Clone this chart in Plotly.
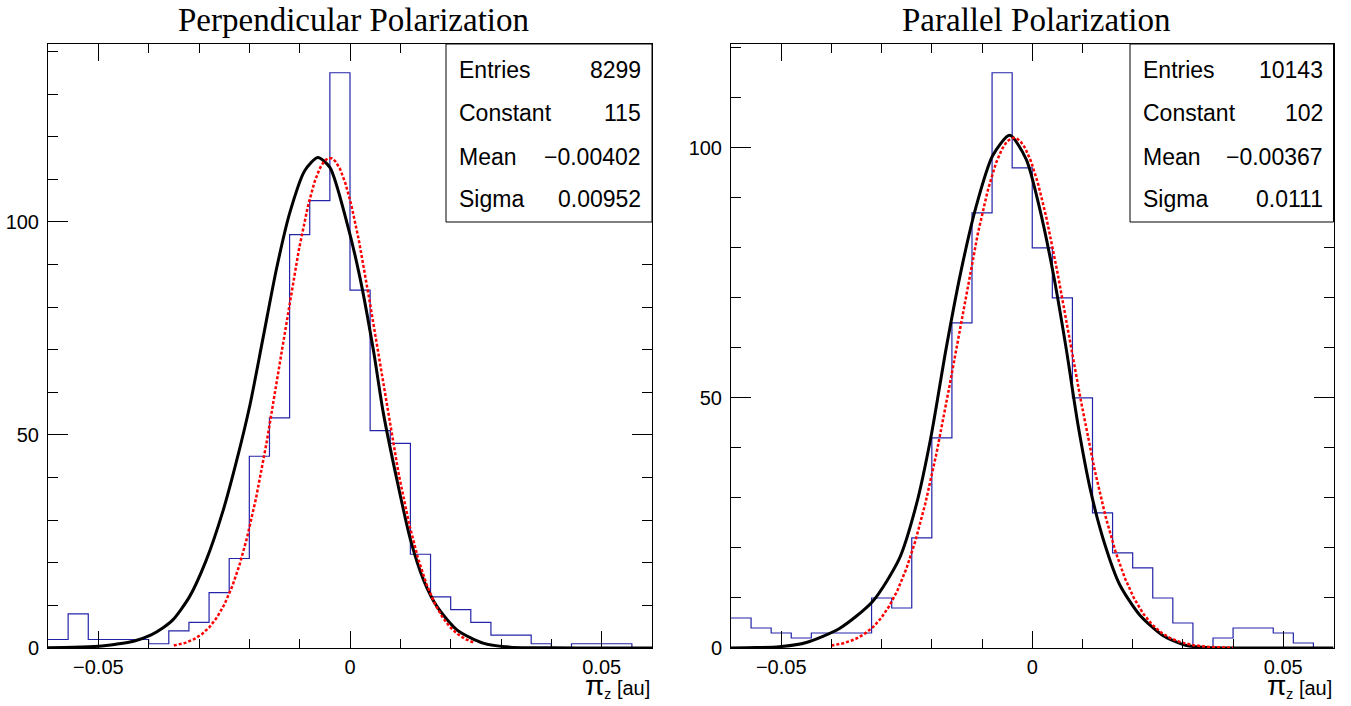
import numpy as np
import plotly.graph_objects as go

W, H = 1351, 706


def px(x):
    return x / W


def py(y):
    return 1 - y / H


# ---------------- data ----------------
bin_edges = [round(-0.06 + 0.004 * i, 4) for i in range(31)]

perp_counts = [2, 8, 2, 2, 2, 1, 4, 6, 13, 21, 45, 54, 97, 105, 135,
               84, 51, 48, 22, 12, 9, 6, 3, 3, 1, 0, 1, 1, 1, 0]
para_counts = [6, 4, 3, 2, 3, 3, 3, 10, 8, 22, 42, 65, 87, 115, 96,
               80, 70, 50, 27, 19, 16, 10, 5, 0, 2, 4, 4, 3, 1, 0]

# fit parameters shown in the stats boxes
perp_stats = {"Entries": "8299", "Constant": "115", "Mean": "\u22120.00402", "Sigma": "0.00952"}
para_stats = {"Entries": "10143", "Constant": "102", "Mean": "\u22120.00367", "Sigma": "0.0111"}
perp_fit = (115.0, -0.00402, 0.00952)
para_fit = (102.0, -0.00367, 0.0111)
perp_fit_range = (-0.035, 0.0245)
para_fit_range = (-0.040, 0.040)

# black reference curves
perp_black_x = [-0.060, -0.055, -0.050, -0.0465, -0.043, -0.0395, -0.0372, -0.0352, -0.0319,
                -0.0286, -0.0252, -0.0226, -0.0199, -0.0173, -0.0146, -0.0120, -0.0090,
                -0.0064, -0.0040, -0.0007, 0.0020, 0.0047, 0.0066, 0.0093, 0.0120, 0.0146,
                0.0173, 0.0213, 0.0266, 0.0319, 0.040, 0.050, 0.060]
perp_black_y = [0.05, 0.15, 0.4, 0.9, 1.6, 3.1, 4.7, 6.6, 12.0,
                20.5, 32.3, 43.6, 56.9, 72.6, 89.0, 102.0, 112.0,
                115.1, 112.8, 100.2, 86.8, 69.5, 55.3, 39.6, 25.5, 16.0,
                9.7, 4.2, 1.1, 0.2, 0.03, 0.0, 0.0]
para_black_x = [-0.060, -0.055, -0.0504, -0.0450, -0.0384, -0.0318, -0.0265, -0.0231,
                -0.0201, -0.0172, -0.0142, -0.0112, -0.0079, -0.0045, -0.0012, 0.0014,
                0.0041, 0.0068, 0.0091, 0.0117, 0.0144, 0.0174, 0.0214, 0.0260, 0.0307,
                0.0360, 0.045, 0.060]
para_black_y = [0.0, 0.08, 0.25, 1.1, 3.9, 9.3, 17.8, 28.6,
                42.6, 59.6, 75.3, 88.2, 98.4, 102.5, 97.7, 88.2,
                75.3, 59.6, 44.7, 31.1, 20.9, 12.7, 6.6, 2.5, 0.5,
                0.05, 0.0, 0.0]

x_tickvals = [-0.05, 0, 0.05]
x_ticktext = ["\u22120.05", "0", "0.05"]
y_tickvals = [0, 50, 100]
y_ticktext = ["0", "50", "100"]
titles = ["Perpendicular Polarization", "Parallel Polarization"]
y_max = [141.75, 120.75]

# ---------------- figure ----------------
fig = go.Figure()


def gauss_curve(params, rng):
    c, m, s = params
    xs = np.linspace(rng[0], rng[1], 400)
    return xs, c * np.exp(-0.5 * ((xs - m) / s) ** 2)


panels = [
    dict(counts=perp_counts, bx=perp_black_x, by=perp_black_y, fit=perp_fit, rng=perp_fit_range, xa="x", ya="y"),
    dict(counts=para_counts, bx=para_black_x, by=para_black_y, fit=para_fit, rng=para_fit_range, xa="x2", ya="y2"),
]
for p in panels:
    fig.add_trace(go.Scatter(x=bin_edges, y=p["counts"] + [p["counts"][-1]], mode="lines",
                             line=dict(color="#2424a8", width=1.2, shape="hv"),
                             xaxis=p["xa"], yaxis=p["ya"], showlegend=False, hoverinfo="skip"))
    fig.add_trace(go.Scatter(x=p["bx"], y=p["by"], mode="lines",
                             line=dict(color="black", width=3, shape="spline", smoothing=0.7),
                             xaxis=p["xa"], yaxis=p["ya"], showlegend=False, hoverinfo="skip"))
    gx, gy = gauss_curve(p["fit"], p["rng"])
    fig.add_trace(go.Scatter(x=gx, y=gy, mode="lines",
                             line=dict(color="#ff0000", width=2.5, dash="3px,2px"),
                             xaxis=p["xa"], yaxis=p["ya"], showlegend=False, hoverinfo="skip"))

x_domains = [[px(48), px(652)], [px(731), px(1333.5)]]
y_domain = [py(648), py(44)]

axis_common = dict(showline=True, linecolor="black", linewidth=1, mirror="ticks",
                   ticks="inside", tickcolor="black", tickwidth=1, showgrid=False, zeroline=False,
                   automargin=False,
                   tickfont=dict(family="Liberation Sans, Arial, sans-serif", size=20, color="black"))

for i, (xk, yk) in enumerate([("xaxis", "yaxis"), ("xaxis2", "yaxis2")]):
    fig.layout[xk] = dict(axis_common, domain=x_domains[i], range=[-0.06, 0.06],
                          tickvals=x_tickvals, ticktext=x_ticktext, ticklen=17,
                          minor=dict(ticks="inside", dtick=0.01, tick0=0, ticklen=9, tickcolor="black", tickwidth=1),
                          anchor="y" if i == 0 else "y2", ticklabelstandoff=1)
    fig.layout[yk] = dict(axis_common, domain=y_domain, range=[0, y_max[i]],
                          tickvals=y_tickvals, ticktext=y_ticktext, ticklen=20,
                          minor=dict(ticks="inside", dtick=10, tick0=0, ticklen=10, tickcolor="black", tickwidth=1),
                          anchor="x" if i == 0 else "x2", ticklabelstandoff=4)

shapes = []
annotations = []
stats_boxes = [(446, 652, perp_stats), (1130, 1333.5, para_stats)]
row_y = [70, 113, 157, 199]
stat_font = dict(family="Liberation Sans, Arial, sans-serif", size=23, color="black")
for (bx0, bx1, st) in stats_boxes:
    shapes.append(dict(type="rect", xref="paper", yref="paper",
                       x0=px(bx0), x1=px(bx1), y0=py(222), y1=py(44),
                       line=dict(color="black", width=1), fillcolor="white", layer="above"))
    for (k, v), ry in zip(st.items(), row_y):
        annotations.append(dict(text=k, xref="paper", yref="paper", x=px(bx0 + 11), y=py(ry),
                                xanchor="left", yanchor="middle", showarrow=False, font=stat_font))
        annotations.append(dict(text=v, xref="paper", yref="paper", x=px(bx1 - 9), y=py(ry),
                                xanchor="right", yanchor="middle", showarrow=False, font=stat_font))

for t, cx in zip(titles, [353, 1036]):
    annotations.append(dict(text=t, xref="paper", yref="paper", x=px(cx), y=py(20),
                            xanchor="center", yanchor="middle", showarrow=False,
                            font=dict(family="Liberation Serif, Times New Roman, serif", size=33, color="black")))

for rx in [652, 1333.5]:
    annotations.append(dict(text="<span style='font-size:28px'>\u03c0</span><sub>z</sub> [au]",
                            xref="paper", yref="paper", x=px(rx), y=py(704),
                            xanchor="right", yanchor="bottom", showarrow=False,
                            font=dict(family="Liberation Sans, Arial, sans-serif", size=20, color="black")))

fig.update_layout(width=W, height=H, margin=dict(l=0, r=0, t=0, b=0),
                  plot_bgcolor="white", paper_bgcolor="white",
                  shapes=shapes, annotations=annotations, showlegend=False)

# remove the default 8px page margin so the figure fills the 1351x706 window exactly
fig.write_html("out.html", config={"displayModeBar": False},
               post_script="document.body.style.margin='0';document.body.style.overflow='hidden';")
